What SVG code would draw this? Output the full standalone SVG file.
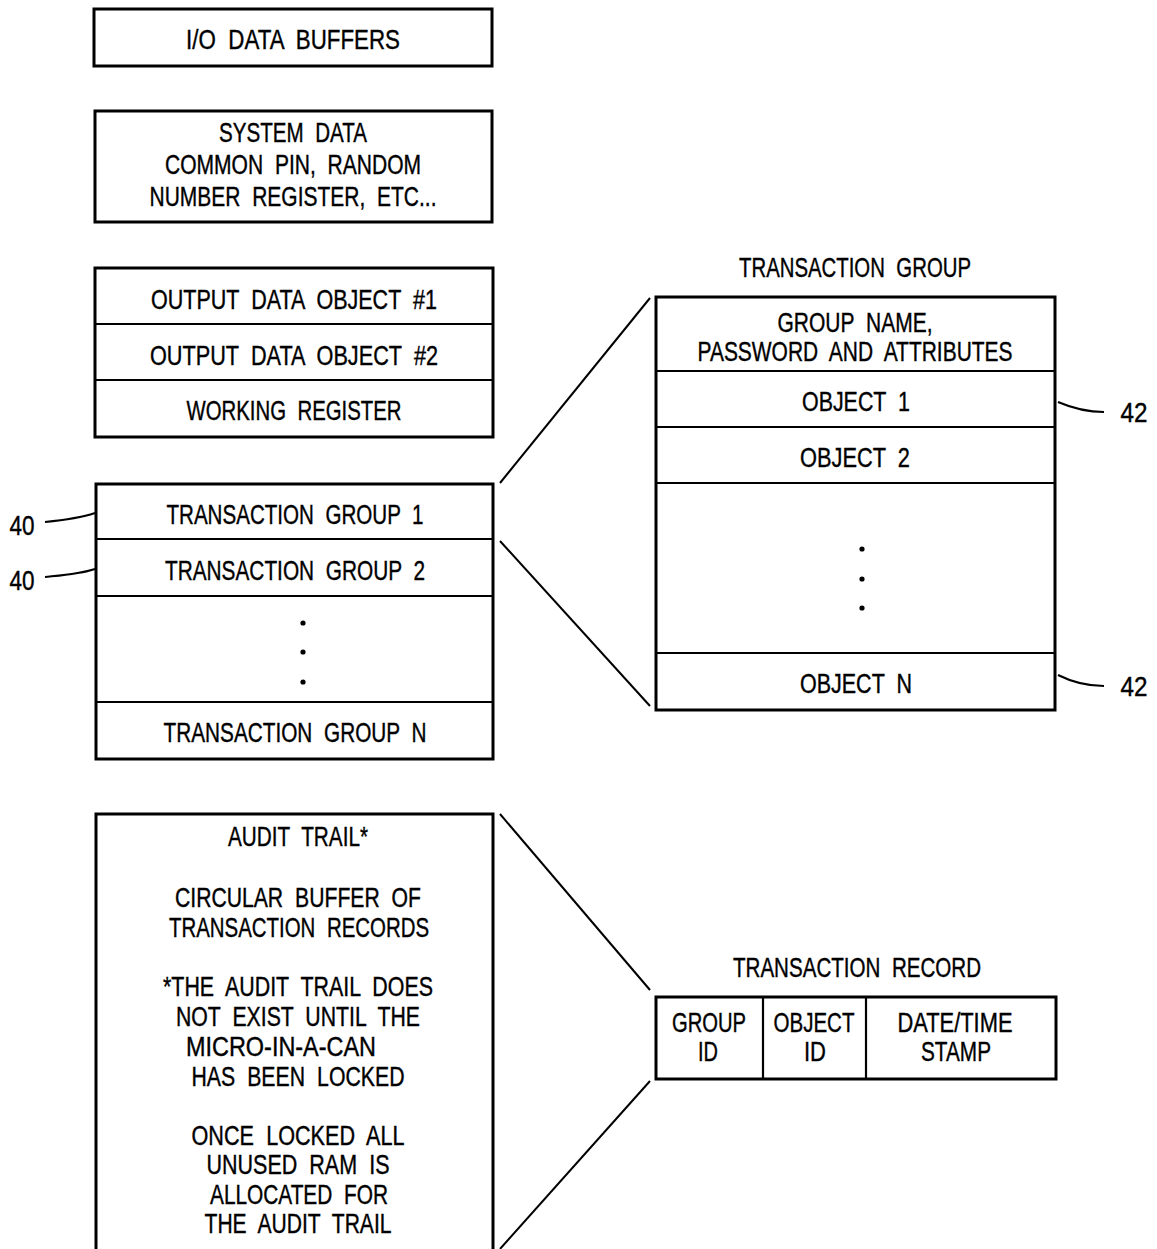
<svg xmlns="http://www.w3.org/2000/svg" width="1157" height="1249" viewBox="0 0 1157 1249">
<style>
.box{fill:#fff;stroke:#000;stroke-width:3}
.div{stroke:#000;stroke-width:2.2;fill:none}
.ln{stroke:#000;stroke-width:2;fill:none}
text{font-family:"Liberation Sans Narrow","Liberation Sans",Arial,sans-serif;font-size:28px;fill:#000;text-anchor:middle;stroke:#000;stroke-width:0.4;word-spacing:8px}
.dot{fill:#000}
</style>
<rect width="1157" height="1249" fill="#fff"/>
<g id="io">
<rect class="box" x="94" y="9" width="398" height="57"/>
<text x="293" y="49" textLength="214" lengthAdjust="spacingAndGlyphs">I/O DATA BUFFERS</text>
</g>
<g id="sysdata">
<rect class="box" x="95" y="111" width="397" height="111"/>
<text x="293" y="142" textLength="148" lengthAdjust="spacingAndGlyphs">SYSTEM DATA</text>
<text x="293" y="174" textLength="256" lengthAdjust="spacingAndGlyphs">COMMON PIN, RANDOM</text>
<text x="293" y="206" textLength="287" lengthAdjust="spacingAndGlyphs">NUMBER REGISTER, ETC...</text>
</g>
<g id="output">
<rect class="box" x="95" y="268" width="398" height="169"/>
<line class="div" x1="95" y1="324" x2="493" y2="324"/>
<line class="div" x1="95" y1="380" x2="493" y2="380"/>
<text x="294" y="309" textLength="286" lengthAdjust="spacingAndGlyphs">OUTPUT DATA OBJECT #1</text>
<text x="294" y="365" textLength="288" lengthAdjust="spacingAndGlyphs">OUTPUT DATA OBJECT #2</text>
<text x="294" y="420" textLength="215" lengthAdjust="spacingAndGlyphs">WORKING REGISTER</text>
</g>
<g id="tgroups">
<rect class="box" x="96" y="484" width="397" height="275"/>
<line class="div" x1="96" y1="539" x2="493" y2="539"/>
<line class="div" x1="96" y1="596" x2="493" y2="596"/>
<line class="div" x1="96" y1="702" x2="493" y2="702"/>
<text x="295" y="524" textLength="257" lengthAdjust="spacingAndGlyphs">TRANSACTION GROUP 1</text>
<text x="295" y="580" textLength="260" lengthAdjust="spacingAndGlyphs">TRANSACTION GROUP 2</text>
<circle class="dot" cx="303" cy="623" r="2.6"/>
<circle class="dot" cx="303" cy="652" r="2.6"/>
<circle class="dot" cx="303" cy="682" r="2.6"/>
<text x="295" y="742" textLength="263" lengthAdjust="spacingAndGlyphs">TRANSACTION GROUP N</text>
</g>
<g id="ref40">
<text x="22" y="535" textLength="25" lengthAdjust="spacingAndGlyphs">40</text>
<text x="22" y="590" textLength="25" lengthAdjust="spacingAndGlyphs">40</text>
</g>
<g id="tgdetail">
<text x="855" y="277" textLength="232" lengthAdjust="spacingAndGlyphs">TRANSACTION GROUP</text>
<rect class="box" x="656" y="297" width="399" height="413"/>
<line class="div" x1="656" y1="371" x2="1055" y2="371"/>
<line class="div" x1="656" y1="427" x2="1055" y2="427"/>
<line class="div" x1="656" y1="483" x2="1055" y2="483"/>
<line class="div" x1="656" y1="653" x2="1055" y2="653"/>
<text x="855" y="332" textLength="155" lengthAdjust="spacingAndGlyphs">GROUP NAME,</text>
<text x="855" y="361" textLength="315" lengthAdjust="spacingAndGlyphs">PASSWORD AND ATTRIBUTES</text>
<text x="856" y="411" textLength="108" lengthAdjust="spacingAndGlyphs">OBJECT 1</text>
<text x="855" y="467" textLength="110" lengthAdjust="spacingAndGlyphs">OBJECT 2</text>
<circle class="dot" cx="862" cy="549" r="2.6"/>
<circle class="dot" cx="862" cy="579" r="2.6"/>
<circle class="dot" cx="862" cy="608" r="2.6"/>
<text x="856" y="693" textLength="112" lengthAdjust="spacingAndGlyphs">OBJECT N</text>
</g>
<g id="ref42">
<text x="1134" y="422" textLength="27" lengthAdjust="spacingAndGlyphs">42</text>
<text x="1134" y="696" textLength="27" lengthAdjust="spacingAndGlyphs">42</text>
</g>
<g id="audit">
<path class="box" d="M96,1249 V814 H493 V1249"/>
<text x="298" y="846" textLength="140" lengthAdjust="spacingAndGlyphs">AUDIT TRAIL*</text>
<text x="298" y="907" textLength="246" lengthAdjust="spacingAndGlyphs">CIRCULAR BUFFER OF</text>
<text x="299" y="937" textLength="260" lengthAdjust="spacingAndGlyphs">TRANSACTION RECORDS</text>
<text x="298" y="996" textLength="270" lengthAdjust="spacingAndGlyphs">*THE AUDIT TRAIL DOES</text>
<text x="298" y="1026" textLength="244" lengthAdjust="spacingAndGlyphs">NOT EXIST UNTIL THE</text>
<text x="281" y="1056" textLength="190" lengthAdjust="spacingAndGlyphs">MICRO-IN-A-CAN</text>
<text x="298" y="1086" textLength="213" lengthAdjust="spacingAndGlyphs">HAS BEEN LOCKED</text>
<text x="298" y="1145" textLength="213" lengthAdjust="spacingAndGlyphs">ONCE LOCKED ALL</text>
<text x="298" y="1174" textLength="183" lengthAdjust="spacingAndGlyphs">UNUSED RAM IS</text>
<text x="299" y="1204" textLength="178" lengthAdjust="spacingAndGlyphs">ALLOCATED FOR</text>
<text x="298" y="1233" textLength="187" lengthAdjust="spacingAndGlyphs">THE AUDIT TRAIL</text>
</g>
<g id="trecord">
<text x="857" y="977" textLength="248" lengthAdjust="spacingAndGlyphs">TRANSACTION RECORD</text>
<rect class="box" x="656" y="997" width="400" height="82"/>
<line class="div" x1="763" y1="997" x2="763" y2="1079"/>
<line class="div" x1="866" y1="997" x2="866" y2="1079"/>
<text x="709" y="1032" textLength="74" lengthAdjust="spacingAndGlyphs">GROUP</text>
<text x="708" y="1061" textLength="20" lengthAdjust="spacingAndGlyphs">ID</text>
<text x="814" y="1032" textLength="81" lengthAdjust="spacingAndGlyphs">OBJECT</text>
<text x="815" y="1061" textLength="22" lengthAdjust="spacingAndGlyphs">ID</text>
<text x="955" y="1032" textLength="115" lengthAdjust="spacingAndGlyphs">DATE/TIME</text>
<text x="956" y="1061" textLength="70" lengthAdjust="spacingAndGlyphs">STAMP</text>
</g>
<g id="connectors">
<path class="ln" d="M45,522 C65,520 80,518 95,513"/>
<path class="ln" d="M45,577 C65,575 80,574 95,569"/>
<path class="ln" d="M1058,402 C1072,408 1085,412 1104,412"/>
<path class="ln" d="M1058,675 C1072,682 1085,686 1104,686"/>
<line class="ln" x1="500" y1="483" x2="650" y2="298"/>
<line class="ln" x1="500" y1="541" x2="650" y2="706"/>
<line class="ln" x1="500" y1="814" x2="650" y2="990"/>
<line class="ln" x1="500" y1="1249" x2="650" y2="1081"/>
</g>
</svg>
